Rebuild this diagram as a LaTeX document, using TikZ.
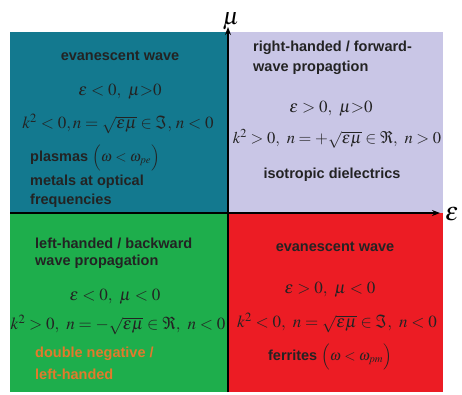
\documentclass[tikz,border=0pt]{standalone}
\usepackage{mathptmx}
\usepackage[no-math]{fontspec}
\setsansfont{Liberation Sans}
\usetikzlibrary{arrows.meta}
\definecolor{qteal}{RGB}{19,121,143}
\definecolor{qlav}{RGB}{201,198,230}
\definecolor{qgreen}{RGB}{30,174,76}
\definecolor{qred}{RGB}{236,28,36}
\definecolor{qtext}{RGB}{35,35,35}
\definecolor{qorange}{RGB}{226,122,44}
\tikzset{
  lbl/.style={font=\sffamily\bfseries\fontsize{14.5}{17}\selectfont, text=qtext, inner sep=0pt},
  lbll/.style={lbl, anchor=west},
  mth/.style={font=\fontsize{17}{20}\selectfont, text=qtext, inner sep=0pt},
  axis/.style={line width=1.4pt, draw=black, -{Stealth[length=8pt,width=6pt]}},
}
\begin{document}
\begin{tikzpicture}[x=1pt,y=-1pt]
\useasboundingbox (0,0) rectangle (462,395);
\fill[white] (0,0) rectangle (462,395);
% quadrants
\fill[qteal] (10,32) rectangle (228,213);
\fill[qlav] (228,32) rectangle (443,213);
\fill[qgreen] (10,213) rectangle (228,392);
\fill[qred] (228,213) rectangle (443,392);
% axes
\coordinate (yb) at (228,392);
\coordinate (yt) at (228,27);
\coordinate (xl) at (10,213);
\coordinate (xr) at (440,213);
\draw[axis] (yb) -- (yt);
\draw[axis] (xl) -- (xr);
\node[font=\fontsize{24}{26}\selectfont, inner sep=0pt] (mu) at (231,21) {$\mu$};
\node[font=\fontsize{26}{28}\selectfont, inner sep=0pt] (eps) at (452,214) {$\varepsilon$};
% top-left
\node[lbl] (tl1) at (120,56) {evanescent wave};
\node[mth] (tl2) at (120,92) {$\varepsilon<0,\ \mu{>}0$};
\node[mth] (tl3) at (118,124) {$k^2<0, n=\sqrt{\varepsilon\mu}\in\Im,\, n<0$};
\node[lbll] (tl4) at (30,158) {plasmas $\Big(\omega<\omega_{pe}\Big)$};
\node[lbll] (tl5) at (30,182) {metals at optical};
\node[lbll] (tl6) at (30,201) {frequencies};
% top-right
\node[lbll] (tr1) at (253,48) {right-handed / forward-};
\node[lbll] (tr2) at (253,68) {wave propagtion};
\node[mth] (tr3) at (331,109) {$\varepsilon>0,\ \mu{>}0$};
\node[mth, font=\fontsize{16.5}{20}\selectfont] (tr4) at (337,139) {$k^2>0,\ n=+\sqrt{\varepsilon\mu}\in\Re,\ n>0$};
\node[lbl] (tr5) at (332,175) {isotropic dielectrics};
% bottom-left
\node[lbll] (bl1) at (35,243) {left-handed / backward};
\node[lbll] (bl2) at (35,262) {wave propagation};
\node[mth] (bl3) at (115,297) {$\varepsilon<0,\ \mu<0$};
\node[mth] (bl4) at (118,325) {$k^2>0,\ n=-\sqrt{\varepsilon\mu}\in\Re,\ n<0$};
\node[lbll, text=qorange] (bl5) at (35,354) {double negative /};
\node[lbll, text=qorange] (bl6) at (35,374) {left-handed};
% bottom-right
\node[lbl] (br1) at (335,247) {evanescent wave};
\node[mth] (br2) at (330,290) {$\varepsilon>0,\ \mu<0$};
\node[mth] (br3) at (337,323) {$k^2<0,\ n=\sqrt{\varepsilon\mu}\in\Im,\ n<0$};
\node[lbl] (br4) at (330,357) {ferrites $\Big(\omega<\omega_{pm}\Big)$};
\end{tikzpicture}
\end{document}
